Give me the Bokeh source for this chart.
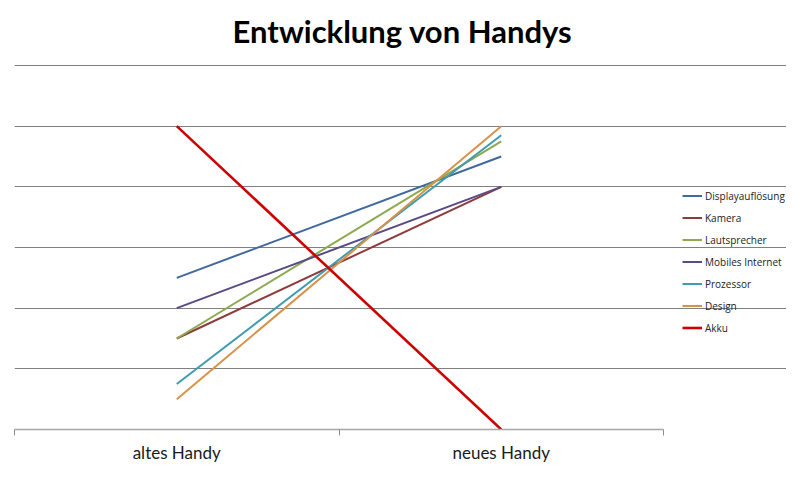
from bokeh.plotting import figure
from bokeh.models import (Range1d, FixedTicker, LinearAxis, Legend, LegendItem, Grid, Label)
from bokeh.embed import file_html
from bokeh.resources import INLINE

title_text = "Entwicklung von Handys"
categories = ["altes Handy", "neues Handy"]
series_names = ["Displayauflösung", "Kamera", "Lautsprecher", "Mobiles Internet",
                "Prozessor", "Design", "Akku"]
displayaufloesung = [2.5, 4.5]
kamera = [1.5, 4.0]
lautsprecher = [1.5, 4.75]
mobiles_internet = [2.0, 4.0]
prozessor = [0.75, 4.85]
design = [0.5, 5.0]
akku = [5.0, 0.0]
series_values = [displayaufloesung, kamera, lautsprecher, mobiles_internet,
                 prozessor, design, akku]
grid_levels = [1, 2, 3, 4, 5, 6]
colors = ["#40699E", "#8E3B3B", "#8CAA50", "#5A4A85", "#3E9BB0", "#D9914A", "#CC0000"]
widths = [2, 2, 2, 2, 2, 2, 2.6]

n = len(categories)
x_pos = [i + 0.5 for i in range(n)]

# plot area spans title and legend; axis and grid are bounded to the category span
W, H = 786, 470
left, bottom = 14, 41
frame_w, frame_h = W - left, H - bottom
cat_w, val_h = 649, 364
x_end = n * frame_w / cat_w
y_end = 6 * frame_h / val_h

p = figure(width=W, height=H, output_backend="svg", toolbar_location=None,
           x_range=Range1d(0, x_end), y_range=Range1d(0, y_end),
           min_border_left=left, min_border_right=0, min_border_top=0,
           min_border_bottom=bottom, x_axis_type=None, y_axis_type=None)
p.title.visible = False
p.outline_line_color = None
p.background_fill_color = "white"
p.border_fill_color = "white"

p.add_layout(Label(x=388, y=399, x_units="screen", y_units="screen", text=title_text,
                   text_font="Lato", text_font_style="bold", text_font_size="31px",
                   text_align="center", text_baseline="middle", text_color="#000000"))

# x axis: category labels at centers, boundary ticks as minor ticks
xax = LinearAxis(ticker=FixedTicker(ticks=x_pos, minor_ticks=list(range(n + 1))),
                 bounds=(0, n))
xax.major_label_overrides = {x: c for x, c in zip(x_pos, categories)}
xax.major_tick_out = 0
xax.major_tick_in = 0
xax.minor_tick_out = 6
xax.minor_tick_in = 0
xax.minor_tick_line_color = "#8C8C8C"
xax.minor_tick_line_width = 1
xax.axis_line_color = "#A6A6A6"
xax.axis_line_width = 1.5
xax.major_label_text_font = "Lato"
xax.major_label_text_font_size = "17px"
xax.major_label_text_color = "#1a1a1a"
xax.major_label_standoff = 6
p.add_layout(xax, "below")

# horizontal grid lines
grid = Grid(dimension=1, ticker=FixedTicker(ticks=grid_levels), bounds=(0, n),
            grid_line_color="#7F7F7F", grid_line_width=1)
p.add_layout(grid)

items = []
for name, vals, col, w in zip(series_names, series_values, colors, widths):
    r = p.line(x_pos, vals, line_color=col, line_width=w)
    items.append(LegendItem(label=name, renderers=[r]))

legend = Legend(items=items, location=(668, 92), orientation="vertical",
                border_line_color=None, background_fill_alpha=0,
                padding=0, margin=0, spacing=3,
                label_height=19, glyph_height=19, glyph_width=20,
                label_standoff=3, label_text_font="Open Sans",
                label_text_font_size="10px", label_text_color="#222222")
p.add_layout(legend, "center")

open("out.html", "w").write(file_html(p, INLINE))
